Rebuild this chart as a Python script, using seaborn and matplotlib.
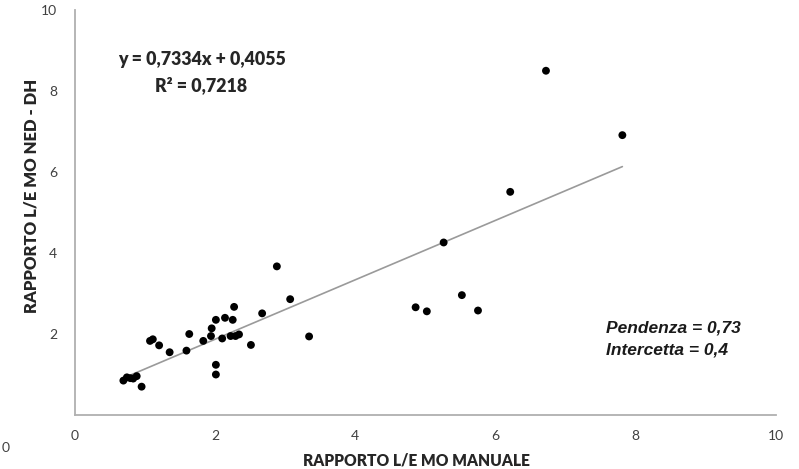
import numpy as np
import pandas as pd
import matplotlib
matplotlib.use("Agg")
import matplotlib.pyplot as plt
import seaborn as sns

# L/E ratio: manual measurement vs NED-DH
manuale = [0.69, 0.74, 0.79, 0.83, 0.88, 0.95, 1.07, 1.11, 1.20, 1.35,
           1.59, 1.63, 1.83, 1.94, 1.95, 2.01, 2.01, 2.01, 2.10, 2.14,
           2.22, 2.25, 2.27, 2.29, 2.34, 2.51, 2.67, 2.88, 3.07, 3.34,
           4.86, 5.02, 5.26, 5.52, 5.75, 6.21, 6.72, 7.81]
ned_dh = [0.85, 0.93, 0.91, 0.90, 0.96, 0.70, 1.83, 1.87, 1.72, 1.55,
          1.59, 2.00, 1.83, 1.95, 2.14, 2.35, 1.24, 1.00, 1.89, 2.40,
          1.95, 2.35, 2.67, 1.95, 1.99, 1.73, 2.51, 3.67, 2.86, 1.94,
          2.66, 2.56, 4.26, 2.96, 2.58, 5.51, 8.50, 6.91]

# linear trend
slope = 0.7334
intercept = 0.4055
r2 = 0.7218

x_ticks = [0, 2, 4, 6, 8, 10]
y_ticks = [2, 4, 6, 8, 10]

df = pd.DataFrame({"manuale": manuale, "ned_dh": ned_dh})

sns.set_style("white")
plt.rcParams["font.family"] = ["Lato", "DejaVu Sans"]

fig = plt.figure(figsize=(7.99, 4.69), dpi=100)
ax = fig.add_axes([0.0939, 0.1151, 0.8771, 0.8636])

sns.scatterplot(data=df, x="manuale", y="ned_dh", ax=ax, color="black",
                s=32, edgecolor="none", zorder=3)

xs = np.array([min(manuale), max(manuale)])
ax.plot(xs, slope * xs + intercept, color="#9a9a9a", lw=1.2, zorder=2)

ax.set_xlim(0, 10)
ax.set_ylim(0, 10)
ax.set_xticks(x_ticks)
ax.set_yticks(y_ticks)
ax.set_xticklabels([str(t) for t in x_ticks])
ax.set_yticklabels([str(t) for t in y_ticks])
ax.tick_params(axis="both", length=0, labelsize=10, colors="#404040")
ax.tick_params(axis="x", pad=11)
ax.tick_params(axis="y", pad=13)

for side in ("top", "right"):
    ax.spines[side].set_visible(False)
for side in ("left", "bottom"):
    ax.spines[side].set_color("#b0b0b0")
    ax.spines[side].set_linewidth(1.3)

ax.set_xlabel("RAPPORTO L/E MO MANUALE", fontsize=11.2, fontweight="heavy",
              color="#262626")
ax.set_ylabel("RAPPORTO L/E MO NED - DH", fontsize=12, fontweight="heavy",
              color="#262626")
ax.xaxis.set_label_coords(0.4865, -0.092)
ax.yaxis.set_label_coords(-0.05, 0.54)

# trend equation
ax.text(1.81, 8.77, f"y = {slope:.4f}x + {intercept:.4f}".replace(".", ","),
        ha="center", va="center", fontsize=12.8, fontweight="heavy", color="#262626")
ax.text(1.80, 8.15, f"R² = {r2:.4f}".replace(".", ","),
        ha="center", va="center", fontsize=12.8, fontweight="heavy", color="#262626")

# summary of the regression coefficients
ax.text(7.58, 2.15, f"Pendenza = {slope:.2f}".replace(".", ","),
        ha="left", va="center", fontsize=12.5, fontweight="bold", style="italic",
        family="Liberation Sans", color="#1a1a1a")
ax.text(7.58, 1.6, f"Intercetta = {round(intercept, 1)}".replace(".", ","),
        ha="left", va="center", fontsize=12.5, fontweight="bold", style="italic",
        family="Liberation Sans", color="#1a1a1a")

fig.text(0.007, 0.045, "0", fontsize=10, color="#404040", ha="center", va="center")

fig.savefig("out.png", dpi=100)
